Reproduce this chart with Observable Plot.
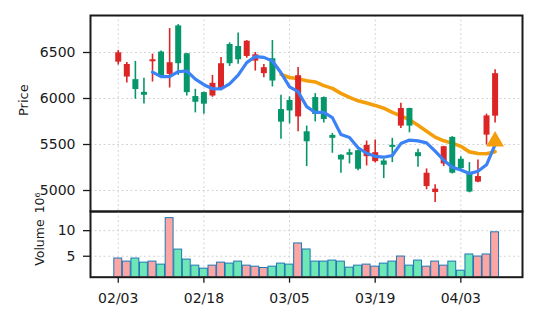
<!DOCTYPE html>
<html><head><meta charset="utf-8">
<script src="https://cdn.jsdelivr.net/npm/d3@7"></script>
<script src="https://cdn.jsdelivr.net/npm/@observablehq/plot@0.6"></script>
<style>
html,body{margin:0;padding:0;background:#fff;}
#wrap{position:relative;width:537px;height:322px;}
#wrap svg{position:absolute;left:0;overflow:visible;background:transparent;}
</style></head><body><div id="wrap"></div>
<script>
// ---- data ----
const openP  = [6395,6233,6205,6067,6399,6505,6262,6789,6486,6021,6064,6027,6107,6587,6565,6457,6406,6270,6432,5880,5978,5800,5638,6010,6010,5599,5383,5411,5433,5368,5314,5321,5491,5700,5891,5411,5043,4978,5289,5578,5340,5195,5091,5602,5808];
const highP  = [6522,6392,6403,6219,6482,6515,6760,6803,6490,6100,6070,6251,6446,6605,6713,6630,6500,6370,6630,6035,6017,6338,5700,6053,6015,5621,5390,5448,5440,5538,5548,5340,5567,5948,5895,5448,5235,5062,5480,5585,5368,5303,5332,5830,6313];
const lowP   = [6363,6168,5992,5941,6179,6230,6114,6251,6027,5844,5830,6013,6090,6349,6373,6438,6298,6226,6125,5556,5725,5638,5260,5746,5735,5405,5188,5289,5216,5267,5300,5130,5303,5675,5627,5253,5008,4870,5260,5180,5230,4975,5085,5494,5735];
const closeP = [6497,6370,6097,6035,6421,6245,6389,6378,6064,5959,5938,6165,6378,6378,6421,6622,6475,6335,6190,5743,5865,6248,5530,5826,5772,5567,5332,5383,5231,5491,5411,5275,5469,5891,5700,5368,5188,5015,5476,5188,5238,4983,5152,5811,6270];
const volume = [4.55,3.95,4.55,3.75,3.95,3.36,12.45,6.3,4.35,3.16,2.57,3.16,3.75,3.56,3.95,3.16,2.96,2.7,2.96,3.56,3.36,7.5,6.32,3.95,3.95,4.15,3.95,2.77,3.16,3.36,2.96,3.56,3.95,4.94,3.16,4.15,2.96,3.95,3.16,3.95,2.17,5.34,4.94,5.34,9.68];
const ma5 = [null,null,null,null,6286,6238,6238,6292,6299,6210,6150,6106,6104,6160,6254,6390,6456,6447,6408,6280,6127,6074,5912,5848,5850,5792,5608,5577,5465,5405,5372,5362,5380,5510,5548,5540,5518,5427,5330,5252,5222,5184,5210,5280,5500];
const ma20 = [null,null,null,null,null,null,null,null,null,null,null,null,null,null,null,null,null,null,null,6262,6228,6215,6193,6180,6140,6110,6056,6012,5975,5950,5925,5895,5850,5812,5770,5708,5645,5580,5540,5515,5480,5420,5402,5400,5422];
const signalIndex = [44];
const signalPrice = [5535];
const tickIndex = [0,10,20,30,40];
const tickLabels = ["02/03","02/18","03/05","03/19","04/03"];
const priceTicks = [5000,5500,6000,6500];
const volumeTicks = [5,10];

// ---- styles ----
const RED = "#dc2626", GREEN = "#059669", PINK = "#fca5a5", MINT = "#6ee7b7";
const BLUE = "#3b82f6", ORANGE = "#f59e0b", EDGE = "#1f77b4", INK = "#1a1a1a";
const GRID = {stroke: "#d4d4d4", strokeDasharray: "2,2.5", strokeWidth: 1};
const xDomain = [-3.24, 47.2];
const font = {fontFamily: "DejaVu Sans, sans-serif", fontSize: "14px", color: INK, background: "transparent", overflow: "visible"};

const rows = closeP.map((c, i) => ({i, o: openP[i], h: highP[i], l: lowP[i], c, v: volume[i], ma5: ma5[i], ma20: ma20[i]}));
const signals = signalIndex.map((i, k) => ({i, p: signalPrice[k]}));
const upCol = (d) => d.c >= d.o ? RED : GREEN;

const topPlot = Plot.plot({
  width: 537, height: 212,
  marginTop: 15, marginBottom: 1, marginLeft: 90, marginRight: 15,
  style: font,
  x: {domain: xDomain, axis: null},
  y: {domain: [4772, 6902], axis: null},
  marks: [
    Plot.ruleY(priceTicks, GRID),
    Plot.ruleX(tickIndex, GRID),
    Plot.axisY({ticks: priceTicks, tickSize: 7, tickPadding: 8, tickFormat: "d", label: null, stroke: INK, strokeWidth: 1.3}),
    Plot.line(rows, {x: "i", y: "ma20", stroke: ORANGE, strokeWidth: 3.6}),
    Plot.ruleX(rows, {x: "i", y1: "l", y2: "h", stroke: upCol, strokeWidth: 1.6}),
    Plot.ruleX(rows, {x: "i", y1: "o", y2: "c", stroke: upCol, strokeWidth: 6}),
    Plot.line(rows, {x: "i", y: "ma5", stroke: BLUE, strokeWidth: 3.2}),
    Plot.dot(signals, {x: "i", y: "p", symbol: "triangle", r: 6.6, fill: ORANGE, stroke: null}),
    Plot.frame({stroke: INK, strokeWidth: 2}),
    Plot.text(["Price"], {frameAnchor: "left", rotate: -90, dx: -67, dy: 2.5, fontSize: 13, fill: INK})
  ]
});
topPlot.style.top = "0px";

const botPlot = Plot.plot({
  width: 537, height: 112,
  marginTop: 1, marginBottom: 45.3, marginLeft: 90, marginRight: 15,
  style: font,
  x: {domain: xDomain, axis: null},
  y: {domain: [0.9, 13.75], axis: null},
  marks: [
    Plot.ruleY(volumeTicks, GRID),
    Plot.ruleX(tickIndex, GRID),
    Plot.rect(rows, {x1: (d) => d.i - 0.46, x2: (d) => d.i + 0.46, y1: 0, y2: "v",
      fill: (d) => d.c >= d.o ? PINK : MINT, stroke: EDGE, strokeWidth: 1, clip: true}),
    Plot.axisY({ticks: volumeTicks, tickSize: 7, tickPadding: 8, tickFormat: "d", label: null, stroke: INK, strokeWidth: 1.3}),
    Plot.axisX({ticks: tickIndex, tickFormat: (d) => tickLabels[tickIndex.indexOf(d)], tickSize: 6, tickPadding: 10, label: null, stroke: INK, strokeWidth: 1.3}),
    Plot.frame({stroke: INK, strokeWidth: 2}),
    Plot.text(["Volume"], {frameAnchor: "left", rotate: -90, dx: -51, dy: 21.5, fontSize: 12.5, fill: INK}),
    Plot.text(["10⁶"], {frameAnchor: "left", rotate: -90, dx: -51, dy: -31, fontSize: 12.5, fill: INK})
  ]
});
botPlot.style.top = "210px";

const wrap = document.getElementById("wrap");
wrap.appendChild(topPlot);
wrap.appendChild(botPlot);
</script>
</body></html>
